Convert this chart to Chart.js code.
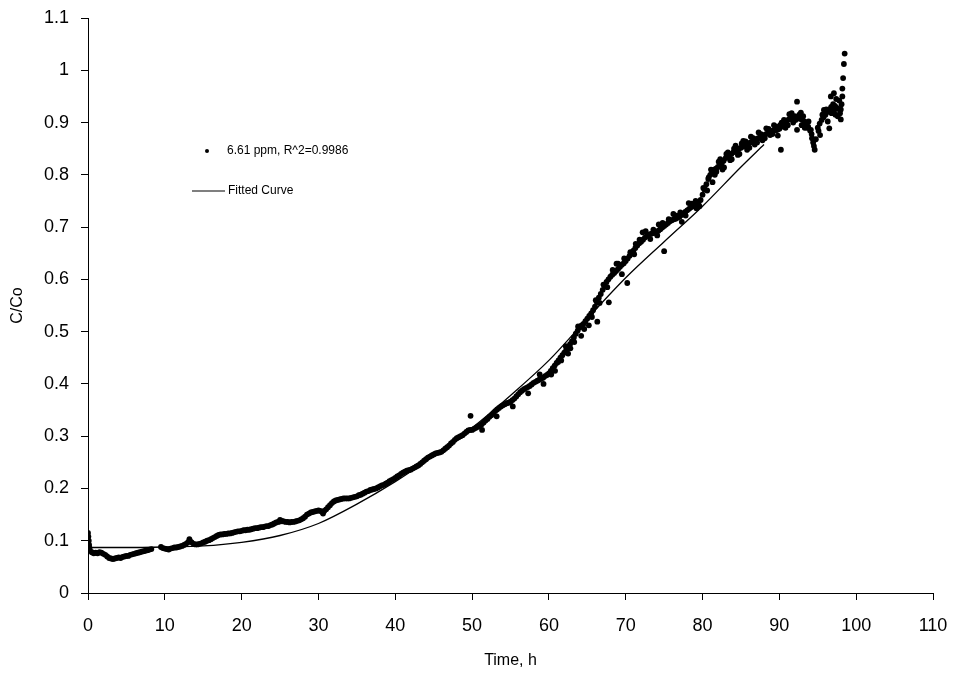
<!DOCTYPE html>
<html>
<head>
<meta charset="utf-8">
<script src="https://cdn.jsdelivr.net/npm/chart.js@4/dist/chart.umd.min.js"></script>
<style>
  body { margin: 0; background: #fff; }
  #chart { display: block; }
</style>
</head>
<body>
<canvas id="chart" width="955" height="677"></canvas>
<script>
const timeH = [
    0.00, 0.05, 0.10, 0.15, 0.20, 0.25, 0.50, 0.75, 1.00, 1.25, 1.50, 1.75, 2.00, 2.25, 2.50, 2.75, 3.00, 3.25, 3.50, 3.75,
    4.00, 4.25, 4.50, 4.75, 5.00, 5.25, 5.50, 5.75, 6.00, 6.25, 6.50, 6.75, 7.00, 7.25, 7.50, 7.75, 8.00, 8.25,
    9.50, 9.75, 10.00, 10.25, 10.50, 10.75, 11.00, 11.25, 11.50, 11.75, 12.00, 12.25, 12.50, 12.75, 13.00, 13.25, 13.50, 13.75,
    14.00, 14.25, 14.50, 14.75, 15.00, 15.25, 15.50, 15.75, 16.00, 16.25, 16.50, 16.75, 17.00, 17.25, 17.50, 17.75,
    18.00, 18.25, 18.50, 18.75, 19.00, 19.25, 19.50, 19.75, 20.00, 20.25, 20.50, 20.75, 21.00, 21.25, 21.50, 21.75,
    22.00, 22.25, 22.50, 22.75, 23.00, 23.25, 23.50, 23.75, 24.00, 24.25, 24.50, 24.75, 25.00, 25.25, 25.50, 25.75,
    26.00, 26.25, 26.50, 26.75, 27.00, 27.25, 27.50, 27.75, 28.00, 28.25, 28.50, 28.75, 29.00, 29.25, 29.50, 29.75,
    30.00, 30.25, 30.50, 30.75, 31.00, 31.25, 31.50, 31.75, 32.00, 32.25, 32.50, 32.75, 33.00, 33.25, 33.50, 33.75,
    34.00, 34.25, 34.50, 34.75, 35.00, 35.25, 35.50, 35.75, 36.00, 36.25, 36.50, 36.75, 37.00, 37.25, 37.50, 37.75,
    38.00, 38.25, 38.50, 38.75, 39.00, 39.25, 39.50, 39.75, 40.00, 40.25, 40.50, 40.75, 41.00, 41.25, 41.50, 41.75,
    42.00, 42.25, 42.50, 42.75, 43.00, 43.25, 43.50, 43.75, 44.00, 44.25, 44.50, 44.75, 45.00, 45.25, 45.50, 45.75,
    46.00, 46.25, 46.50, 46.75, 47.00, 47.25, 47.50, 47.75, 48.00, 48.25, 48.50, 48.75, 49.00, 49.25, 49.50, 49.75,
    50.00, 50.25, 50.50, 50.75, 51.00, 51.25, 51.50, 51.75, 52.00, 52.25, 52.50, 52.75, 53.00, 53.25, 53.50, 53.75,
    54.00, 54.25, 54.50, 54.75, 55.00, 55.25, 55.50, 55.75, 56.00, 56.25, 56.50, 56.75, 57.00, 57.25, 57.50, 57.75,
    58.00, 58.25, 58.50, 58.75, 59.00, 59.25, 59.50, 59.75, 60.00, 60.25, 60.50, 60.75, 61.00, 61.25, 61.50, 61.75,
    62.00, 62.25, 62.50, 62.75, 63.00, 63.25, 63.50, 63.75, 64.00, 64.25, 64.50, 64.75, 65.00, 65.25, 65.50, 65.75,
    66.00, 66.25, 66.50, 66.75, 67.00, 67.25, 67.50, 67.75, 68.00, 68.25, 68.50, 68.75, 69.00, 69.25, 69.50, 69.75,
    70.00, 70.25, 70.50, 70.75, 71.00, 71.25, 71.50, 71.75, 72.00, 72.25, 72.50, 72.75, 73.00, 73.25, 73.50, 73.75,
    74.00, 74.25, 74.50, 74.75, 75.00, 75.25, 75.50, 75.75, 76.00, 76.25, 76.50, 76.75, 77.00, 77.25, 77.50, 77.75,
    78.00, 78.25, 78.50, 78.75, 79.00, 79.25, 79.50, 79.75, 80.00, 80.25, 80.50, 80.75, 81.00, 81.25, 81.50, 81.75,
    82.00, 82.25, 82.50, 82.75, 83.00, 83.25, 83.50, 83.75, 84.00, 84.25, 84.50, 84.75, 85.00, 85.25, 85.50, 85.75,
    86.00, 86.25, 86.50, 86.75, 87.00, 87.25, 87.50, 87.75, 88.00, 88.25, 88.50, 88.75, 89.00, 89.25, 89.50, 89.75,
    90.00, 90.25, 90.50, 90.75, 91.00, 91.25, 91.50, 91.75, 92.00, 92.25, 92.50, 92.75, 93.00, 93.25, 93.50, 93.75,
    94.00, 94.25, 94.50, 94.75, 95.00, 95.25, 95.50, 95.75, 96.00, 96.25, 96.50, 96.75, 97.00, 97.25, 97.50, 97.75,
    98.00, 98.20, 98.30, 98.40, 98.50
];
const ratioCC0 = [
    0.115, 0.108, 0.100, 0.092, 0.086, 0.081, 0.078, 0.076, 0.077, 0.076, 0.078, 0.077, 0.075, 0.073, 0.070, 0.067, 0.066, 0.065, 0.066, 0.067,
    0.068, 0.067, 0.069, 0.070, 0.071, 0.071, 0.073, 0.074, 0.075, 0.076, 0.077, 0.078, 0.079, 0.080, 0.081, 0.082, 0.083, 0.084,
    0.088, 0.086, 0.085, 0.084, 0.083, 0.085, 0.086, 0.087, 0.087, 0.088, 0.089, 0.090, 0.092, 0.094, 0.097, 0.100, 0.097, 0.094,
    0.093, 0.093, 0.094, 0.095, 0.097, 0.098, 0.100, 0.101, 0.103, 0.105, 0.107, 0.109, 0.111, 0.112, 0.112, 0.113,
    0.113, 0.114, 0.114, 0.115, 0.116, 0.117, 0.118, 0.118, 0.119, 0.120, 0.120, 0.121, 0.121, 0.122, 0.123, 0.124,
    0.124, 0.125, 0.126, 0.126, 0.127, 0.128, 0.128, 0.130, 0.131, 0.133, 0.135, 0.136, 0.137, 0.138, 0.137, 0.136,
    0.136, 0.135, 0.136, 0.136, 0.137, 0.138, 0.139, 0.141, 0.143, 0.146, 0.150, 0.152, 0.154, 0.155, 0.156, 0.157,
    0.158, 0.157, 0.155, 0.157, 0.160, 0.164, 0.168, 0.172, 0.175, 0.177, 0.178, 0.179, 0.180, 0.181, 0.181, 0.181,
    0.181, 0.182, 0.183, 0.184, 0.185, 0.187, 0.188, 0.190, 0.192, 0.194, 0.195, 0.197, 0.198, 0.199, 0.200, 0.202,
    0.204, 0.206, 0.207, 0.209, 0.211, 0.214, 0.216, 0.218, 0.220, 0.223, 0.225, 0.228, 0.230, 0.232, 0.234, 0.235,
    0.236, 0.238, 0.240, 0.242, 0.244, 0.247, 0.250, 0.253, 0.256, 0.259, 0.261, 0.263, 0.265, 0.267, 0.268, 0.269,
    0.270, 0.273, 0.276, 0.279, 0.282, 0.286, 0.289, 0.293, 0.296, 0.298, 0.300, 0.302, 0.305, 0.308, 0.311, 0.312,
    0.312, 0.314, 0.316, 0.318, 0.320, 0.323, 0.326, 0.330, 0.333, 0.337, 0.340, 0.344, 0.348, 0.351, 0.354, 0.357,
    0.359, 0.361, 0.363, 0.364, 0.366, 0.369, 0.372, 0.376, 0.380, 0.384, 0.387, 0.390, 0.392, 0.394, 0.396, 0.399,
    0.402, 0.404, 0.406, 0.408, 0.410, 0.412, 0.415, 0.417, 0.420, 0.425, 0.430, 0.435, 0.440, 0.445, 0.450, 0.455,
    0.460, 0.465, 0.470, 0.476, 0.482, 0.489, 0.496, 0.502, 0.508, 0.512, 0.515, 0.520, 0.525, 0.530, 0.535, 0.541,
    0.548, 0.556, 0.565, 0.572, 0.580, 0.588, 0.595, 0.600, 0.605, 0.609, 0.612, 0.616, 0.620, 0.624, 0.628, 0.631,
    0.635, 0.640, 0.645, 0.650, 0.655, 0.660, 0.665, 0.669, 0.672, 0.676, 0.680, 0.683, 0.685, 0.687, 0.688, 0.689,
    0.690, 0.693, 0.696, 0.699, 0.702, 0.705, 0.708, 0.711, 0.713, 0.715, 0.716, 0.718, 0.720, 0.723, 0.726, 0.729,
    0.732, 0.735, 0.738, 0.740, 0.742, 0.745, 0.748, 0.752, 0.762, 0.772, 0.782, 0.792, 0.800, 0.805, 0.810, 0.812,
    0.815, 0.818, 0.822, 0.827, 0.832, 0.835, 0.838, 0.840, 0.843, 0.845, 0.848, 0.850, 0.852, 0.854, 0.856, 0.858,
    0.860, 0.862, 0.864, 0.866, 0.868, 0.870, 0.872, 0.874, 0.876, 0.878, 0.880, 0.882, 0.884, 0.885, 0.885, 0.886,
    0.888, 0.892, 0.896, 0.900, 0.904, 0.906, 0.908, 0.910, 0.912, 0.910, 0.908, 0.907, 0.905, 0.902, 0.898, 0.892,
    0.885, 0.870, 0.855, 0.868, 0.890, 0.898, 0.905, 0.910, 0.915, 0.920, 0.925, 0.930, 0.935, 0.932, 0.928, 0.926,
    0.925, 0.965, 0.985, 1.012, 1.032
];

// readings that sit off the main band
const timeOff = [
    13.2, 25.0, 30.6, 49.8, 51.3, 53.2, 55.3, 57.3, 58.8, 59.3, 61.2, 62.5, 64.2, 65.2, 66.3, 67.8, 68.8, 69.5, 70.2, 71.3,
    72.2, 73.2, 74.3, 75.0, 76.2, 77.3, 78.2, 79.2, 80.3, 80.8, 81.3, 81.8, 82.3, 82.8, 83.3, 83.8, 84.3, 84.8, 85.3, 85.8,
    86.3, 86.8, 87.3, 87.8, 88.3, 88.8, 89.3, 89.8, 90.2, 90.3, 90.8, 91.3, 91.8, 92.3, 92.3, 92.8, 93.3, 93.8, 94.1, 95.3,
    95.8, 96.3, 96.5, 96.7, 97.1, 97.3, 97.6, 97.8, 98.0,
    60.3, 60.8, 61.6, 62.2, 62.8, 63.3, 63.8, 64.6, 65.6, 66.1, 66.6, 67.1, 67.6, 68.3, 69.0, 69.8, 70.6, 71.1, 71.8, 72.6,
    73.6, 74.1, 74.8, 75.6, 76.6, 77.1, 77.8, 78.6, 79.1, 79.6, 80.1, 80.6, 81.1, 81.6, 82.1, 82.6, 83.1, 83.6, 84.1, 84.6,
    85.1, 85.6, 86.1, 86.6, 87.1, 87.6, 88.1, 88.6, 89.1, 89.6, 90.1, 90.6, 91.1, 91.6, 92.1, 92.6, 92.9, 93.1, 93.6, 94.2,
    94.4, 94.6, 95.1, 95.6, 96.1, 96.8, 97.2, 97.4, 97.9, 98.1, 98.2
];
const ratioOff = [
    0.103, 0.140, 0.152, 0.339, 0.312, 0.338, 0.357, 0.382, 0.418, 0.400, 0.442, 0.458, 0.492, 0.512, 0.519, 0.556, 0.630, 0.610, 0.593, 0.668,
    0.690, 0.677, 0.705, 0.654, 0.725, 0.710, 0.746, 0.736, 0.772, 0.795, 0.786, 0.806, 0.830, 0.814, 0.843, 0.830, 0.856, 0.840, 0.865, 0.848,
    0.873, 0.858, 0.881, 0.866, 0.889, 0.876, 0.895, 0.875, 0.848, 0.900, 0.890, 0.916, 0.900, 0.940, 0.886, 0.919, 0.890, 0.902, 0.886, 0.876,
    0.924, 0.902, 0.889, 0.950, 0.956, 0.915, 0.912, 0.942, 0.906,
    0.418, 0.425, 0.445, 0.472, 0.468, 0.480, 0.510, 0.505, 0.528, 0.560, 0.555, 0.590, 0.585, 0.618, 0.630, 0.640, 0.652, 0.648, 0.676, 0.692,
    0.695, 0.684, 0.708, 0.715, 0.722, 0.728, 0.722, 0.745, 0.750, 0.740, 0.775, 0.770, 0.810, 0.800, 0.825, 0.810, 0.840, 0.828, 0.850, 0.838,
    0.860, 0.864, 0.852, 0.870, 0.862, 0.878, 0.870, 0.888, 0.878, 0.892, 0.895, 0.905, 0.895, 0.918, 0.905, 0.915, 0.895, 0.912, 0.890, 0.878,
    0.862, 0.848, 0.884, 0.915, 0.925, 0.918, 0.925, 0.945, 0.918, 0.935, 0.950
];

// fitted curve, read at 5 h steps
const fitTime = [0, 5, 10, 15, 20, 25, 30, 35, 40, 45, 50, 55, 60, 65, 70, 75, 80, 85, 88];
const fitRatio = [0.087, 0.087, 0.088, 0.090, 0.097, 0.110, 0.133, 0.170, 0.213, 0.262, 0.316, 0.378, 0.445, 0.525, 0.603, 0.672, 0.740, 0.815, 0.858];

const xTicks = [0, 10, 20, 30, 40, 50, 60, 70, 80, 90, 100, 110];
const yTicks = [0, 0.1, 0.2, 0.3, 0.4, 0.5, 0.6, 0.7, 0.8, 0.9, 1, 1.1];

const seriesLabel = '6.61 ppm, R^2=0.9986';
const fitLabel = 'Fitted Curve';

const fontFamily = "Arial, 'Liberation Sans', sans-serif";

const points = timeH.map((t, i) => ({ x: t, y: ratioCC0[i] }))
    .concat(timeOff.map((t, i) => ({ x: t, y: ratioOff[i] })));
const fitPoints = fitTime.map((t, i) => ({ x: t, y: fitRatio[i] }));

// legend sits inside the plot, drawn by hand
const insideLegend = {
    id: 'insideLegend',
    afterDraw(chart) {
        const ctx = chart.ctx;
        ctx.save();
        ctx.fillStyle = '#000';
        ctx.strokeStyle = '#000';
        ctx.font = '12px ' + fontFamily;
        ctx.textBaseline = 'middle';
        ctx.beginPath();
        ctx.arc(207, 151, 2, 0, Math.PI * 2);
        ctx.fill();
        ctx.fillText(seriesLabel, 227, 151);
        ctx.lineWidth = 1.2;
        ctx.beginPath();
        ctx.moveTo(192, 191);
        ctx.lineTo(225, 191);
        ctx.stroke();
        ctx.fillText(fitLabel, 228, 191);
        ctx.restore();
    }
};

// no extra room for overhanging tick labels, the layout padding decides
const noScalePadding = scale => {
    scale.paddingTop = 0;
    scale.paddingBottom = 0;
    scale.paddingLeft = 0;
    scale.paddingRight = 0;
};

const ctx = document.getElementById('chart').getContext('2d');
new Chart(ctx, {
    type: 'scatter',
    data: {
        datasets: [
            {
                label: seriesLabel,
                data: points,
                backgroundColor: '#000',
                borderColor: '#000',
                pointRadius: 2.9,
                pointBorderWidth: 0,
                showLine: false
            },
            {
                label: fitLabel,
                data: fitPoints,
                showLine: true,
                borderColor: '#000',
                borderWidth: 1.3,
                pointRadius: 0,
                cubicInterpolationMode: 'monotone',
                fill: false
            }
        ]
    },
    options: {
        responsive: false,
        devicePixelRatio: 1,
        animation: false,
        layout: { padding: { top: 18, right: 22, bottom: 0, left: 0 } },
        plugins: {
            legend: { display: false },
            tooltip: { enabled: false }
        },
        scales: {
            x: {
                type: 'linear',
                min: 0,
                max: 110,
                afterFit: scale => { scale.height = 84; noScalePadding(scale); },
                afterBuildTicks: scale => { scale.ticks = xTicks.map(v => ({ value: v })); },
                grid: { drawOnChartArea: false, color: '#000', tickLength: 7, tickWidth: 1 },
                border: { display: true, color: '#000', width: 1 },
                ticks: {
                    color: '#000',
                    font: { family: fontFamily, size: 18 },
                    padding: 15,
                    maxRotation: 0,
                    callback: v => String(v)
                },
                title: {
                    display: true,
                    text: 'Time, h',
                    color: '#000',
                    font: { family: fontFamily, size: 16 },
                    padding: { top: 0, bottom: 7 }
                }
            },
            y: {
                type: 'linear',
                min: 0,
                max: 1.1,
                afterFit: scale => { scale.width = 88; noScalePadding(scale); },
                afterBuildTicks: scale => { scale.ticks = yTicks.map(v => ({ value: v })); },
                grid: { drawOnChartArea: false, color: '#000', tickLength: 7, tickWidth: 1 },
                border: { display: true, color: '#000', width: 1 },
                ticks: {
                    color: '#000',
                    font: { family: fontFamily, size: 18 },
                    padding: 12,
                    callback: v => String(Number(v.toFixed(1)))
                },
                title: {
                    display: true,
                    text: 'C/Co',
                    color: '#000',
                    font: { family: fontFamily, size: 16 },
                    padding: { top: 8, bottom: 0 }
                }
            }
        }
    },
    plugins: [insideLegend]
});
</script>
</body>
</html>
